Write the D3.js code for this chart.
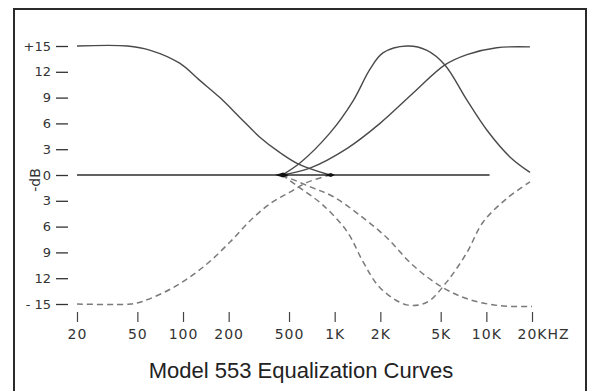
<!DOCTYPE html>
<html>
<head>
<meta charset="utf-8">
<script src="https://cdn.jsdelivr.net/npm/d3@7"></script>
<style>
    body { margin: 0; background: #fff; }
    .curve { fill: none; }
</style>
</head>
<body>
<div id="chart"></div>
<script>
// ---- data ----
var xTicks = [20, 50, 100, 200, 500, 1000, 2000, 5000, 10000, 20000];
var xTickLabels = ["20", "50", "100", "200", "500", "1K", "2K", "5K", "10K", "20KHZ"];
var yTicks = [-15, -12, -9, -6, -3, 0, 3, 6, 9, 12, 15];
var yTickLabels = ["- 15", "12", "9", "6", "3", "0", "3", "6", "9", "12", "+15"];

// flat response
var flatFreq = [20, 10500];
var flatDb = [0, 0];

// low shelf boost / cut
var lowBoostFreq = [20, 43, 61, 95, 129, 175, 237, 321, 436, 573, 930];
var lowBoostDb = [15, 15, 14.5, 13, 11, 9.0, 6.7, 4.4, 2.6, 1.3, 0];
var lowCutFreq = [20, 45, 54, 86, 136, 204, 289, 392, 507, 650, 930];
var lowCutDb = [-15, -15, -14.7, -13.1, -10.7, -7.8, -5.0, -3.1, -2.0, -0.9, 0];

// mid peak boost / cut
var peakBoostFreq = [450, 590, 932, 1320, 1710, 2080, 2990, 4060, 5330, 7450, 10100, 14300, 19400];
var peakBoostDb = [0, 1.4, 4.9, 8.6, 12.3, 14.2, 15.0, 14.5, 12.8, 8.7, 5.2, 2.1, 0.3];
var peakCutFreq = [450, 590, 837, 1210, 1540, 1990, 2990, 4060, 5500, 7450, 9500, 13700, 19400];
var peakCutDb = [0, -1.5, -3.5, -6.6, -10.1, -13.1, -15.1, -14.8, -12.4, -9.0, -5.5, -2.7, -0.8];

// high shelf boost / cut
var highBoostFreq = [450, 687, 1210, 1990, 3280, 5330, 7450, 11700, 19400];
var highBoostDb = [0, 0.8, 3.1, 6.0, 9.5, 12.8, 14.0, 14.8, 14.9];
var highCutFreq = [450, 718, 975, 1470, 2210, 3280, 5170, 7800, 12300, 20000];
var highCutDb = [0, -1.5, -2.5, -4.7, -7.3, -10.5, -13.1, -14.5, -15.2, -15.3];

// points where the curves meet the 0 dB line
var nodeFreq = [450, 930];

var title = "Model 553 Equalization Curves";

var width = 589,
    height = 391;

var svg = d3.select("#chart").append("svg")
    .attr("width", width)
    .attr("height", height);

// scales
var x = d3.scaleLog().domain([20, 20000]).range([77, 532]);
var y = d3.scaleLinear().domain([-15, 15]).range([304, 46]);

function pairs(freqs, dbs) {
    return freqs.map(function (f, i) {
        return { f: f, db: dbs[i] };
    });
}

var line = d3.line()
    .curve(d3.curveCatmullRom.alpha(0.5))
    .x(function (d) { return x(d.f); })
    .y(function (d) { return y(d.db); });

// frame
svg.append("rect")
    .attr("x", 14)
    .attr("y", 9)
    .attr("width", 572)
    .attr("height", 400)
    .attr("fill", "none")
    .attr("stroke", "#2a2a2a")
    .attr("stroke-width", 2);

// y axis (tick dashes, no domain line)
var yAxis = svg.append("g")
    .attr("class", "yaxis")
    .attr("transform", "translate(68,0)")
    .call(d3.axisLeft(y)
        .tickValues(yTicks)
        .tickSize(12)
        .tickPadding(5)
        .tickFormat(function (d, i) { return yTickLabels[i]; }));
yAxis.select(".domain").remove();
yAxis.selectAll("line").attr("stroke", "#333").attr("stroke-width", 1.3);
yAxis.selectAll("text")
    .attr("fill", "#333")
    .style("font-family", "'DejaVu Sans', sans-serif")
    .style("font-size", "13px");

// x axis
var xAxis = svg.append("g")
    .attr("class", "xaxis")
    .attr("transform", "translate(0,312)")
    .call(d3.axisBottom(x)
        .tickValues(xTicks)
        .tickSize(10)
        .tickPadding(7)
        .tickFormat(function (d, i) { return xTickLabels[i]; }));
xAxis.select(".domain").remove();
xAxis.selectAll("line").attr("stroke", "#444").attr("stroke-width", 1.2);
xAxis.selectAll("text")
    .attr("fill", "#333")
    .style("font-family", "'DejaVu Sans', sans-serif")
    .style("font-size", "14px")
    .style("letter-spacing", "1px");
// keep the "20" of 20KHZ under its tick
xAxis.selectAll("text").filter(function (d) { return d === 20000; })
    .attr("text-anchor", "start")
    .attr("x", -15);

// -dB label
svg.append("text")
    .attr("transform", "translate(40,180) rotate(-90)")
    .attr("text-anchor", "middle")
    .attr("fill", "#333")
    .style("font-family", "'DejaVu Sans', sans-serif")
    .style("font-size", "14px")
    .text("-dB");

// curves
var solidCurves = [
    pairs(flatFreq, flatDb),
    pairs(lowBoostFreq, lowBoostDb),
    pairs(peakBoostFreq, peakBoostDb),
    pairs(highBoostFreq, highBoostDb)
];
var dashedCurves = [
    pairs(lowCutFreq, lowCutDb),
    pairs(peakCutFreq, peakCutDb),
    pairs(highCutFreq, highCutDb)
];

svg.selectAll(".dashed")
    .data(dashedCurves)
    .enter().append("path")
    .attr("class", "curve dashed")
    .attr("d", line)
    .attr("stroke", "#7a7a7a")
    .attr("stroke-width", 1.5)
    .attr("stroke-dasharray", "6,4");

svg.selectAll(".solid")
    .data(solidCurves)
    .enter().append("path")
    .attr("class", "curve solid")
    .attr("d", line)
    .attr("stroke", function (d, i) { return i === 0 ? "#2e2e2e" : "#4a4a4a"; })
    .attr("stroke-width", function (d, i) { return i === 0 ? 1.6 : 1.4; });

// little dark joins on the 0 dB line
svg.selectAll(".node")
    .data(nodeFreq)
    .enter().append("path")
    .attr("class", "node")
    .attr("transform", function (d) { return "translate(" + x(d) + "," + y(0) + ")"; })
    .attr("d", function (d, i) {
        return i === 0 ? "M-7,0 L1,-2.5 L7,0 L1,2.5 Z" : "M-5,0 L1,-2 L5,0 L1,2 Z";
    })
    .attr("fill", "#111");

// title
svg.append("text")
    .attr("x", 301)
    .attr("y", 378)
    .attr("text-anchor", "middle")
    .attr("fill", "#222")
    .style("font-family", "'Liberation Sans', Arial, sans-serif")
    .style("font-size", "22px")
    .text(title);
</script>
</body>
</html>
